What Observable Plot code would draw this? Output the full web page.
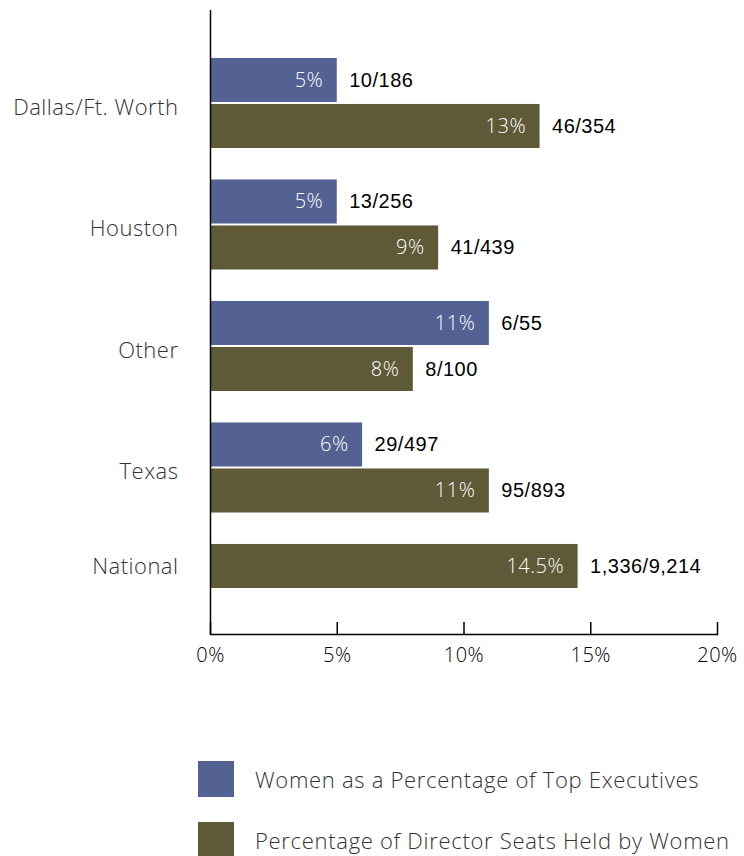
<!DOCTYPE html>
<html>
<head>
<meta charset="utf-8">
<script src="https://cdn.jsdelivr.net/npm/d3@7"></script>
<script src="https://cdn.jsdelivr.net/npm/@observablehq/plot@0.6"></script>
<style>
  body { margin: 0; background: #fff; font-family: "Open Sans", Roboto, sans-serif; }
  #legend { margin-top: 88px; }
  .item { display: flex; align-items: center; height: 36px; margin-bottom: 25px; padding-left: 198px; }
  .sw { width: 36px; height: 36px; margin-right: 21px; }
  .lab { font-size: 22px; font-weight: 300; color: #333; letter-spacing: 0.7px; }
</style>
</head>
<body>
<div id="chart"></div>
<div id="legend"></div>
<script>
const categories = ["Dallas/Ft. Worth", "Houston", "Other", "Texas", "National"];
const seriesNames = ["Women as a Percentage of Top Executives", "Percentage of Director Seats Held by Women"];
const seriesColors = ["#546193", "#5e5937"];
const execPct = [5, 5, 11, 6, null];
const execCounts = ["10/186", "13/256", "6/55", "29/497", null];
const dirPct = [13, 9, 8, 11, 14.5];
const dirCounts = ["46/354", "41/439", "8/100", "95/893", "1,336/9,214"];
const xTicks = [0, 5, 10, 15, 20];

// Build rows; a group with a single bar puts it in the top slot
const rows = [];
categories.forEach((c, i) => {
  const vals = [[seriesNames[0], execPct[i], execCounts[i]], [seriesNames[1], dirPct[i], dirCounts[i]]]
    .filter(d => d[1] != null);
  vals.forEach((d, k) => rows.push({category: c, series: d[0], value: d[1], count: d[2], slot: k, single: vals.length === 1}));
});
const topRows = rows.filter(d => d.slot === 0);
const bottomRows = rows.filter(d => d.slot === 1);
const labels = categories.map(c => ({category: c, single: rows.filter(r => r.category === c).length === 1}));

const W = 744, H = 673, mt = 10, mb = 39;
const half = 46, gap = 23;
const light = "'Open Sans', Roboto, sans-serif";
const regular = "'Liberation Sans', Arial, sans-serif";

const chart = Plot.plot({
  width: W, height: H,
  marginLeft: 210, marginRight: 27, marginTop: mt, marginBottom: mb,
  style: {fontFamily: light, background: "#fff", letterSpacing: "0.5px"},
  x: {domain: [0, 20], axis: null},
  y: {domain: categories, paddingInner: 0.259, paddingOuter: 0.1974, align: 1, round: false, axis: null},
  color: {domain: seriesNames, range: seriesColors},
  marks: [
    Plot.barX(topRows, {x: "value", y: "category", fill: "series", insetBottom: half}),
    Plot.barX(bottomRows, {x: "value", y: "category", fill: "series", insetTop: half}),
    Plot.text(topRows, {x: "value", y: "category", dy: -gap, text: d => d.value + "%", textAnchor: "end", dx: -14, fill: "white", fontSize: 20, fontWeight: 300}),
    Plot.text(bottomRows, {x: "value", y: "category", dy: gap, text: d => d.value + "%", textAnchor: "end", dx: -14, fill: "white", fontSize: 20, fontWeight: 300}),
    Plot.text(topRows, {x: "value", y: "category", dy: -gap, text: "count", textAnchor: "start", dx: 12, fill: "black", fontSize: 20, fontFamily: regular}),
    Plot.text(bottomRows, {x: "value", y: "category", dy: gap, text: "count", textAnchor: "start", dx: 12, fill: "black", fontSize: 20, fontFamily: regular}),
    Plot.text(labels.filter(d => !d.single), {x: () => 0, y: "category", text: "category", textAnchor: "end", dx: -32, dy: 4, fill: "#333", fontSize: 22, fontWeight: 300}),
    Plot.text(labels.filter(d => d.single), {x: () => 0, y: "category", text: "category", textAnchor: "end", dx: -32, dy: -gap, fill: "#333", fontSize: 22, fontWeight: 300}),
    Plot.ruleX([0], {stroke: "black", strokeWidth: 1.5}),
    Plot.ruleX(xTicks, {stroke: "black", strokeWidth: 1.5, insetTop: H - mt - mb - 12}),
    Plot.frame({anchor: "bottom", stroke: "black", strokeWidth: 1.5}),
    Plot.axisX({ticks: xTicks, tickSize: 0, tickPadding: 13, label: null, tickFormat: d => d + "%", fontSize: 20, fontWeight: 300, fill: "black"})
  ]
});
document.getElementById("chart").appendChild(chart);

const legend = document.getElementById("legend");
seriesNames.forEach((s, i) => {
  const item = document.createElement("div");
  item.className = "item";
  const sw = document.createElement("div");
  sw.className = "sw";
  sw.style.background = seriesColors[i];
  const lab = document.createElement("div");
  lab.className = "lab";
  lab.textContent = s;
  item.appendChild(sw);
  item.appendChild(lab);
  legend.appendChild(item);
});
</script>
</body>
</html>
